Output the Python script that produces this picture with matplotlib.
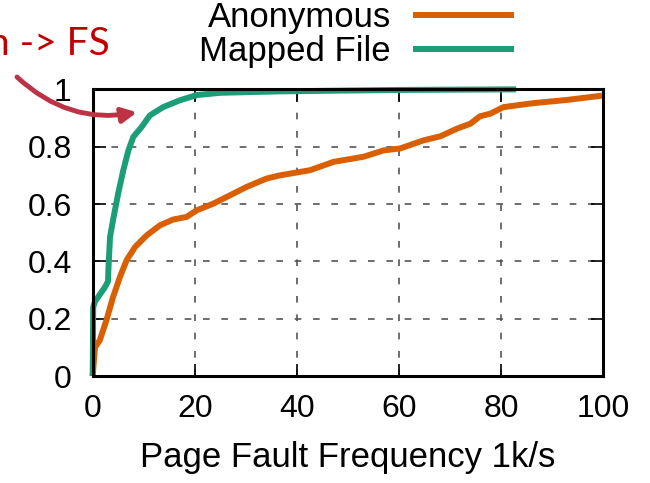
import matplotlib.pyplot as plt

# CDF of page fault frequency (x in 1k/s)
anon_x = [0, 0.45, 1.4, 2.7, 4.0, 5.35, 6.65, 8.3, 10.6, 13.2, 15.8, 18.4, 20.4, 23.6,
          26.3, 30.2, 34.1, 36.7, 42.6, 47.2, 53.1, 57.0, 60.3, 64.8, 68.1, 71.4, 74.0,
          75.9, 77.9, 80.5, 86.4, 92.9, 99.8]
anon_y = [0, 0.10, 0.125, 0.195, 0.276, 0.346, 0.404, 0.45, 0.491, 0.526, 0.546, 0.555,
          0.578, 0.601, 0.625, 0.66, 0.689, 0.70, 0.718, 0.747, 0.765, 0.787, 0.794,
          0.822, 0.836, 0.863, 0.88, 0.906, 0.915, 0.938, 0.952, 0.963, 0.978]

mapped_x = [0, 0.1, 0.45, 2.4, 3.0, 3.1, 3.4, 4.0, 5.0, 6.0, 7.0, 7.96, 9.6, 11.2, 13.8,
            17.1, 20.4, 25.0, 36.7, 60.0, 83.0]
mapped_y = [0, 0.24, 0.26, 0.31, 0.33, 0.38, 0.485, 0.545, 0.637, 0.718, 0.787, 0.834,
            0.869, 0.909, 0.938, 0.962, 0.98, 0.988, 0.993, 0.998, 1.0]

xticks = [0, 20, 40, 60, 80, 100]
yticks = [0, 0.2, 0.4, 0.6, 0.8, 1.0]
ytick_labels = ['0', '0.2', '0.4', '0.6', '0.8', '1']

plt.rcParams['font.family'] = ['Liberation Sans', 'DejaVu Sans']

fig = plt.figure(figsize=(6.5, 4.83), dpi=100)
ax = fig.add_axes([0.1426, 0.2215, 0.785, 0.5935])

l1, = ax.plot(anon_x, anon_y, color='#D95F02', lw=4.3, label='Anonymous', clip_on=False,
              solid_capstyle='butt')
l2, = ax.plot(mapped_x, mapped_y, color='#1B9E77', lw=4.3, label='Mapped File', clip_on=False,
              solid_capstyle='butt')

ax.set_xlim(0, 100)
ax.set_ylim(0, 1)
ax.set_xticks(xticks)
ax.set_yticks(yticks)
ax.set_yticklabels(ytick_labels)
ax.tick_params(direction='in', length=9, width=1.2, labelsize=23, top=True, right=True,
               pad=13)
ax.tick_params(axis='y', pad=15)
ax.grid(True, color='#555555', lw=1.2, linestyle=(0, (4, 7)))
for s in ax.spines.values():
    s.set_linewidth(2.2)
ax.set_xlabel('Page Fault Frequency 1k/s', fontsize=25, labelpad=12)

ax.legend(handles=[l1, l2], loc='upper right', bbox_to_anchor=(0.791, 1 - 1 / 483),
          bbox_transform=fig.transFigure, frameon=False, markerfirst=False,
          fontsize=25, handlelength=2.9, handletextpad=0.65, labelspacing=0.02,
          borderaxespad=0, borderpad=0)

# annotation (cut off at the left edge in the original)
fig.text(110 / 650, 1 - 55 / 483, 'n -> FS', ha='right', va='baseline', color='#C00000',
         fontsize=28, family=['Lato', 'DejaVu Sans'])
ax.annotate('', xy=(8.7, 0.92), xycoords='data',
            xytext=(17 / 650, 1 - 77 / 483), textcoords='figure fraction',
            arrowprops=dict(arrowstyle='-|>', color='#BE3246', lw=3.5, mutation_scale=22,
                            connectionstyle='arc3,rad=0.25', shrinkA=0, shrinkB=0),
            annotation_clip=False)

fig.savefig('out.png', dpi=100)
